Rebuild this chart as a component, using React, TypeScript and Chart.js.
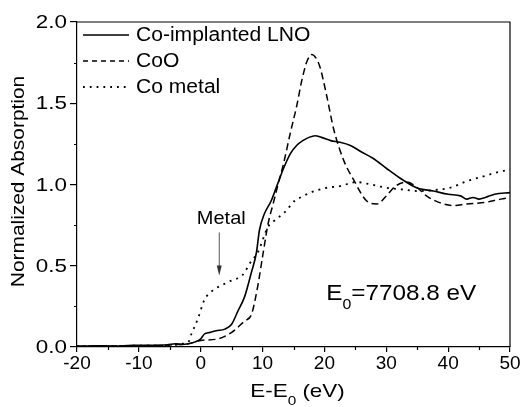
import React, { useEffect, useRef } from "react";
import { Chart, registerables } from "chart.js";

Chart.register(...registerables);

// ---- data ----
const lnoE = [-20, -17, -14, -11, -8, -6, -4, -3, -2, -1, 0, 0.6, 1.5, 2.5, 3.9, 5, 6, 7.1, 8.2, 9, 9.5, 10.3, 11.4, 12.3, 13.4, 14.5, 15.5, 16.5, 17.5, 18.5, 19.5, 21, 22.5, 24.2, 26, 27.9, 30, 32.2, 34.9, 37.6, 40, 42, 43, 44, 45, 46, 47.5, 50];
const lnoAbs = [0.005, 0.008, 0.006, 0.01, 0.01, 0.012, 0.02, 0.015, 0.02, 0.03, 0.05, 0.08, 0.09, 0.1, 0.11, 0.14, 0.22, 0.31, 0.46, 0.58, 0.72, 0.82, 0.9, 0.99, 1.1, 1.19, 1.24, 1.27, 1.29, 1.3, 1.29, 1.27, 1.26, 1.24, 1.2, 1.16, 1.1, 1.04, 0.98, 0.96, 0.94, 0.93, 0.91, 0.92, 0.91, 0.92, 0.94, 0.95];

const cooE = [-20, -15, -10, -6, -4, -2, 0, 2.8, 5, 7.1, 8.2, 9.2, 10.1, 10.9, 11.7, 12.5, 13.4, 14.5, 15.5, 16.4, 17.2, 18, 18.6, 19.3, 20.4, 21.5, 23.1, 24.7, 26.8, 28.5, 30, 31.5, 33.3, 35, 36.5, 38.5, 40.8, 43, 46, 48.5, 50];
const cooAbs = [0.005, 0.005, 0.008, 0.01, 0.015, 0.02, 0.04, 0.05, 0.09, 0.16, 0.2, 0.37, 0.58, 0.76, 0.88, 1.0, 1.13, 1.32, 1.48, 1.65, 1.76, 1.8, 1.78, 1.72, 1.54, 1.34, 1.15, 1.03, 0.9, 0.88, 0.93, 0.99, 1.015, 0.98, 0.93, 0.89, 0.87, 0.88, 0.89, 0.91, 0.92];

const metalE = [-20, -15, -10, -5, -3, -2, -1.5, -0.4, 0.6, 2, 3.4, 5, 6.7, 8.2, 9.2, 10.9, 12, 13.6, 15.2, 16.1, 17.7, 20.4, 22.5, 25.2, 27.5, 30, 32.5, 35, 37.6, 40.3, 43, 45.7, 48.4, 50];
const metalAbs = [0.005, 0.005, 0.008, 0.01, 0.02, 0.03, 0.08, 0.18, 0.29, 0.35, 0.38, 0.41, 0.44, 0.53, 0.58, 0.74, 0.78, 0.83, 0.9, 0.92, 0.95, 0.98, 0.99, 1.015, 1.0, 0.98, 0.97, 0.96, 0.965, 0.98, 1.02, 1.05, 1.08, 1.09];

const seriesNames = ["Co-implanted LNO", "CoO", "Co metal"];
const xMinorTicks = [-15, -5, 5, 15, 25, 35, 45];
const yMinorTicks = [0.25, 0.75, 1.25, 1.75];
const yTitle = "Normalized Absorption";
const metalLabel = "Metal";
const e0Value = "=7708.8 eV";

const FONT = "'Liberation Sans', Arial, Helvetica, sans-serif";

const toPts = (xs: number[], ys: number[]) => xs.map((x, i) => ({ x, y: ys[i] }));

const dashes: number[][] = [[], [7, 4], [2, 5]];

function txt(ctx: CanvasRenderingContext2D, t: string, x: number, y: number, size: number, sx: number) {
  ctx.save();
  ctx.font = `${size}px ${FONT}`;
  ctx.translate(x, y);
  ctx.scale(sx, 1);
  ctx.fillText(t, 0, 0);
  const w = ctx.measureText(t).width * sx;
  ctx.restore();
  return w;
}
function tw(ctx: CanvasRenderingContext2D, t: string, size: number, sx: number) {
  ctx.save();
  ctx.font = `${size}px ${FONT}`;
  const w = ctx.measureText(t).width * sx;
  ctx.restore();
  return w;
}

const deco = {
  id: "deco",
  afterDraw(chart: any) {
    const ctx = chart.ctx as CanvasRenderingContext2D;
    const { left, right, top, bottom } = chart.chartArea;
    const xs = chart.scales.x;
    const ys = chart.scales.y;
    ctx.save();
    ctx.strokeStyle = "#000";
    ctx.lineWidth = 1.2;
    ctx.beginPath();
    ctx.moveTo(left, top);
    ctx.lineTo(right, top);
    ctx.lineTo(right, bottom);
    ctx.stroke();
    // minor ticks
    ctx.beginPath();
    for (const v of xMinorTicks) {
      const px = Math.round(xs.getPixelForValue(v)) + 0.5;
      ctx.moveTo(px, bottom);
      ctx.lineTo(px, bottom + 3);
    }
    for (const v of yMinorTicks) {
      const py = Math.round(ys.getPixelForValue(v)) + 0.5;
      ctx.moveTo(left - 3, py);
      ctx.lineTo(left, py);
    }
    ctx.stroke();

    // y tick labels (from the y scale's ticks)
    ctx.fillStyle = "#000";
    ctx.textBaseline = "middle";
    ctx.textAlign = "left";
    for (const t of ys.ticks) {
      const lab = Number(t.value).toFixed(1);
      const w = tw(ctx, lab, 19, 1.18);
      txt(ctx, lab, left - 10 - w, ys.getPixelForValue(t.value) + 1, 19, 1.18);
    }

    // legend
    seriesNames.forEach((name, i) => {
      const y = top + 13 + i * 26;
      ctx.save();
      ctx.lineWidth = i === 2 ? 1.8 : 1.5;
      ctx.setLineDash(i === 1 ? [5, 4] : i === 2 ? [1.8, 5] : []);
      ctx.beginPath();
      ctx.moveTo(left + 6, y);
      ctx.lineTo(left + 52, y);
      ctx.stroke();
      ctx.restore();
      txt(ctx, name, left + 59, y + 1, 19.5, 1.08);
    });

    // Metal annotation
    const ax = xs.getPixelForValue(3);
    const mw = tw(ctx, metalLabel, 18.5, 1.08);
    txt(ctx, metalLabel, ax + 2 - mw / 2, ys.getPixelForValue(0.79), 18.5, 1.08);
    const yTop = ys.getPixelForValue(0.705);
    const yTip = ys.getPixelForValue(0.44);
    ctx.strokeStyle = "#555";
    ctx.fillStyle = "#333";
    ctx.lineWidth = 1;
    ctx.beginPath();
    ctx.moveTo(ax, yTop);
    ctx.lineTo(ax, yTip - 8);
    ctx.stroke();
    ctx.beginPath();
    ctx.moveTo(ax - 2.5, yTip - 10);
    ctx.lineTo(ax + 2.5, yTip - 10);
    ctx.lineTo(ax, yTip);
    ctx.closePath();
    ctx.fill();

    // E0 label
    ctx.fillStyle = "#000";
    ctx.textBaseline = "alphabetic";
    let ex = xs.getPixelForValue(20.3);
    const eb = ys.getPixelForValue(0.29);
    ex += txt(ctx, "E", ex, eb, 21.5, 1.13);
    ex += txt(ctx, "0", ex, eb + 9, 14, 1.13);
    txt(ctx, e0Value, ex, eb, 21.5, 1.13);

    // x title
    const parts: [string, number, number][] = [
      ["E-E", 19, 0],
      ["0", 13, 8],
      [" (eV)", 19, 0],
    ];
    const xsx = 1.18;
    let total = 0;
    for (const [t, s] of parts) total += tw(ctx, t, s, xsx);
    let tx = (left + right) / 2 + 4 - total / 2;
    const tb = 397;
    for (const [t, s, dy] of parts) tx += txt(ctx, t, tx, tb + dy, s, xsx);

    // y title
    ctx.save();
    ctx.translate(19, (top + bottom) / 2 - 3);
    ctx.rotate(-Math.PI / 2);
    ctx.textBaseline = "middle";
    const yw = tw(ctx, yTitle, 19, 1.1);
    txt(ctx, yTitle, -yw / 2, 0, 19, 1.1);
    ctx.restore();

    ctx.restore();
  },
};

export default function App() {
  const ref = useRef<HTMLCanvasElement>(null);
  useEffect(() => {
    document.body.style.margin = "0";
    const chart = new Chart(ref.current!, {
      type: "line",
      data: {
        datasets: [
          { label: seriesNames[0], data: toPts(lnoE, lnoAbs), borderDash: dashes[0], borderWidth: 1.6 },
          { label: seriesNames[1], data: toPts(cooE, cooAbs), borderDash: dashes[1], borderWidth: 1.5 },
          { label: seriesNames[2], data: toPts(metalE, metalAbs), borderDash: dashes[2], borderWidth: 1.8 },
        ].map((d) => ({
          ...d,
          borderColor: "#000",
          backgroundColor: "#000",
          pointRadius: 0,
          fill: false,
          cubicInterpolationMode: "monotone" as const,
        })),
      },
      options: {
        animation: false,
        responsive: true,
        maintainAspectRatio: false,
        layout: { padding: { top: 22, right: 17, left: 0, bottom: 0 } },
        plugins: { legend: { display: false }, tooltip: { enabled: false } },
        scales: {
          x: {
            type: "linear",
            min: -20,
            max: 50,
            afterFit: (s: any) => {
              s.height = 60;
            },
            border: { display: true, color: "#000", width: 1.2 },
            grid: { drawOnChartArea: false, drawTicks: true, tickLength: 5, color: "#000", lineWidth: 1.2 },
            ticks: {
              stepSize: 10,
              padding: 0,
              color: "#000",
              font: { family: FONT, size: 19 },
              callback: (v: any) => String(v),
            },
          },
          y: {
            type: "linear",
            min: 0,
            max: 2,
            afterFit: (s: any) => {
              s.width = 77;
            },
            border: { display: true, color: "#000", width: 1.2 },
            grid: { drawOnChartArea: false, drawTicks: true, tickLength: 7, color: "#000", lineWidth: 1.2 },
            ticks: {
              stepSize: 0.5,
              padding: 4,
              color: "rgba(0,0,0,0)",
              font: { family: FONT, size: 19 },
              callback: (v: any) => Number(v).toFixed(1),
            },
          },
        },
      },
      plugins: [deco],
    });
    return () => chart.destroy();
  }, []);
  return (
    <div style={{ width: 527, height: 407, position: "relative", background: "#fff" }}>
      <canvas ref={ref} />
    </div>
  );
}
